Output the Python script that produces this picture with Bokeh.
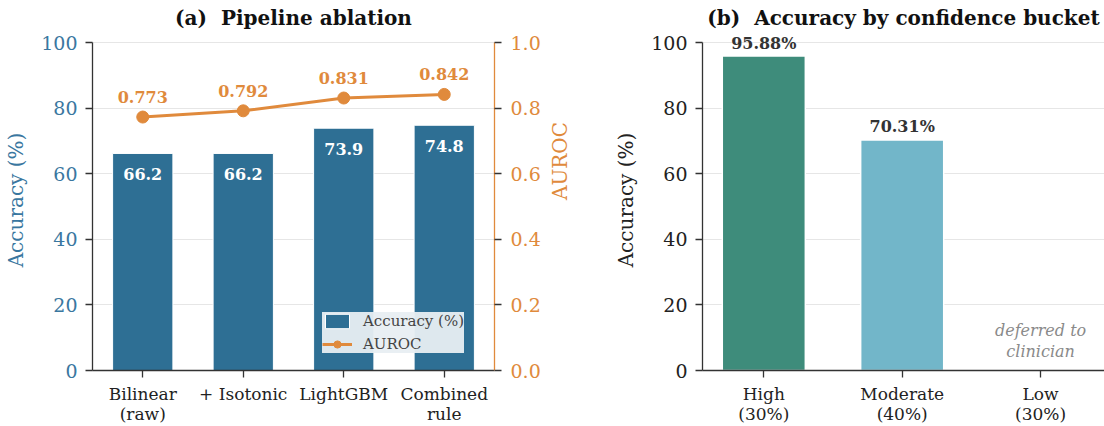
import math
from bokeh.plotting import figure
from bokeh.models import (Range1d, LinearAxis, FixedTicker, PrintfTickFormatter,
                          Legend, LegendItem, ColumnDataSource, LabelSet)
from bokeh.layouts import row
from bokeh.embed import file_html
from bokeh.resources import INLINE
from bokeh.core.properties import value

# ---------------- data ----------------
stages = ["Bilinear\n(raw)", "+ Isotonic", "LightGBM", "Combined\nrule"]
accuracy = [66.2, 66.2, 73.9, 74.8]
auroc = [0.773, 0.792, 0.831, 0.842]

buckets = ["High\n(30%)", "Moderate\n(40%)", "Low\n(30%)"]
bucket_acc = [95.88, 70.31, 0.0]
bucket_labels = ["95.88%", "70.31%", ""]
deferred_note = "deferred to\nclinician"

y_ticks = [0, 20, 40, 60, 80, 100]
auroc_ticks = [0.0, 0.2, 0.4, 0.6, 0.8, 1.0]

FONT = "DejaVu Serif"
BLUE = "#2e6f94"
BLUE_TXT = "#3a77a0"
ORANGE = "#e08a3c"
TEAL = "#3e8c7b"
LIGHTBLUE = "#72b6c9"
AXIS = "#333333"
GRID = "#e6e6e6"
H = 426
BOTTOM = 55
TOP = 29
HEADROOM = 1.04   # room above the axis top for value labels


def style_axis(ax, line_color=AXIS, label_color="#222222", tick_color=AXIS):
    ax.axis_line_color = line_color
    ax.axis_line_width = 1.3
    ax.major_tick_line_color = tick_color
    ax.major_tick_line_width = 1.3
    ax.major_tick_out = 7
    ax.major_tick_in = 0
    ax.minor_tick_line_color = None
    ax.major_label_text_font = FONT
    ax.axis_label_text_font = FONT
    ax.axis_label_text_font_style = "normal"
    ax.major_label_text_color = label_color
    ax.axis_label_text_color = label_color


def style_xaxis(ax, ticks, labels):
    ax.ticker = FixedTicker(ticks=ticks)
    ax.major_label_overrides = {t: s for t, s in zip(ticks, labels)}
    style_axis(ax)
    ax.major_label_text_font_size = "17px"
    ax.major_label_text_line_height = 1.0
    ax.major_label_standoff = 6


def style_yaxis(ax, label, color):
    ax.ticker = FixedTicker(ticks=y_ticks)
    ax.bounds = (y_ticks[0], y_ticks[-1])
    style_axis(ax, label_color=color)
    ax.axis_label = label
    ax.major_label_text_font_size = "19px"
    ax.axis_label_text_font_size = "20px"
    ax.major_label_standoff = 8
    ax.axis_label_standoff = 10


def style_title(p, text):
    p.title.text = text
    p.title.text_font = FONT
    p.title.text_font_size = "20px"
    p.title.text_font_style = "bold"
    p.title.align = "center"
    p.title.text_color = "#111111"
    p.title.standoff = 0


def base_figure(width, x_range, border_left, border_right):
    p = figure(width=width, height=H, output_backend="svg", toolbar_location=None,
               x_range=x_range, y_range=Range1d(0, y_ticks[-1] * HEADROOM),
               min_border_left=border_left, min_border_right=border_right,
               min_border_top=TOP, min_border_bottom=BOTTOM)
    p.outline_line_color = None
    p.xgrid.grid_line_color = None
    p.ygrid.grid_line_color = GRID
    p.ygrid.grid_line_width = 1.2
    p.ygrid.ticker = FixedTicker(ticks=y_ticks)
    return p


# ---------------- panel (a) ----------------
xa = list(range(len(stages)))
pa = base_figure(588, Range1d(-0.5, 3.5), 92, 94)
style_title(pa, "(a)\u00a0 Pipeline ablation")

src_a = ColumnDataSource(dict(x=xa, acc=accuracy, auroc=auroc,
                              acc_lbl=[f"{v:.1f}" for v in accuracy],
                              au_lbl=[f"{v:.3f}" for v in auroc]))
bars_a = pa.vbar(x="x", top="acc", width=0.6, source=src_a, fill_color=BLUE,
                 line_color="white", line_width=1)
pa.add_layout(LabelSet(x="x", y="acc", text="acc_lbl", source=src_a, y_offset=-21,
                       text_align="center", text_baseline="middle", text_color="white",
                       text_font=value(FONT), text_font_style="bold", text_font_size="16px"))

pa.extra_y_ranges = {"auroc": Range1d(0, auroc_ticks[-1] * HEADROOM)}
line_r = pa.line(x="x", y="auroc", source=src_a, y_range_name="auroc",
                 line_color=ORANGE, line_width=3)
circ_r = pa.scatter(x="x", y="auroc", source=src_a, y_range_name="auroc",
                    size=12, fill_color=ORANGE, line_color=ORANGE)
pa.add_layout(LabelSet(x="x", y="auroc", text="au_lbl", source=src_a, y_range_name="auroc",
                       y_offset=20, text_align="center", text_baseline="middle",
                       text_color=ORANGE, text_font=value(FONT), text_font_style="bold",
                       text_font_size="16px"))

style_xaxis(pa.xaxis[0], xa, stages)
style_yaxis(pa.yaxis[0], "Accuracy (%)", BLUE_TXT)

ra = LinearAxis(y_range_name="auroc", axis_label="AUROC")
ra.ticker = FixedTicker(ticks=auroc_ticks)
ra.bounds = (auroc_ticks[0], auroc_ticks[-1])
ra.formatter = PrintfTickFormatter(format="%.1f")
style_axis(ra, line_color=ORANGE, label_color=ORANGE, tick_color=AXIS)
ra.major_label_text_font_size = "19px"
ra.axis_label_text_font_size = "20px"
ra.major_label_standoff = 9
ra.axis_label_standoff = 16
try:
    ra.axis_label_orientation = math.pi / 2
except Exception:
    pass
pa.add_layout(ra, "right")

legend = Legend(items=[LegendItem(label="Accuracy (%)", renderers=[bars_a]),
                       LegendItem(label="AUROC", renderers=[line_r, circ_r])],
                location=(230, 17))
legend.label_text_font = FONT
legend.label_text_font_size = "15px"
legend.background_fill_color = "#e8eef2"
legend.background_fill_alpha = 0.95
legend.border_line_color = None
legend.glyph_width = 30
legend.glyph_height = 18
legend.label_height = 18
legend.label_standoff = 11
legend.spacing = 5
legend.padding = 7
legend.margin = 0
pa.add_layout(legend, "center")

# ---------------- panel (b) ----------------
xb = list(range(len(buckets)))
pb = base_figure(516, Range1d(-0.443, 2.462), 114, 0)
style_title(pb, "(b)\u00a0 Accuracy by confidence bucket")

src_b = ColumnDataSource(dict(x=xb, acc=bucket_acc, lbl=bucket_labels,
                              color=[TEAL, LIGHTBLUE, "#ffffff"]))
pb.vbar(x="x", top="acc", width=0.6, source=src_b, fill_color="color",
        line_color="white", line_width=1.5)
pb.add_layout(LabelSet(x="x", y="acc", text="lbl", source=src_b, y_offset=13,
                       text_align="center", text_baseline="middle", text_color="#333333",
                       text_font=value(FONT), text_font_style="bold", text_font_size="16px"))
pb.text(x=[xb[2]], y=[9], text=[deferred_note], text_align="center",
        text_baseline="middle", text_color="#8a8a8a", text_font=value(FONT),
        text_font_style="italic", text_font_size="16px", text_line_height=1.12)

style_xaxis(pb.xaxis[0], xb, buckets)
style_yaxis(pb.yaxis[0], "Accuracy (%)", "#222222")

layout = row(pa, pb)
open("out.html", "w").write(file_html(layout, INLINE))
